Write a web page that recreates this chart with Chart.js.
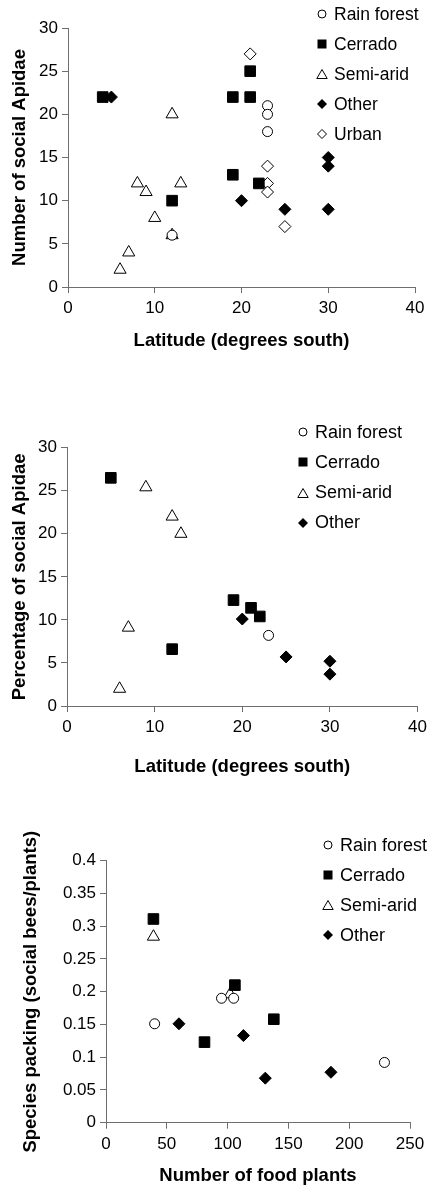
<!DOCTYPE html>
<html>
<head>
<meta charset="utf-8">
<script src="https://cdn.jsdelivr.net/npm/chart.js@4.4.1/dist/chart.umd.min.js"></script>
<style>
  html, body { margin:0; padding:0; background:#fff; }
  body { width:432px; height:1186px; position:relative; overflow:hidden; font-family: Arial, 'Liberation Sans', sans-serif; }
  .panel { position:absolute; left:0; width:432px; }
  .panel canvas { position:absolute; left:0; top:0; }
  .legend { position:absolute; left:0; top:0; }
  .legend__row { position:absolute; height:20px; display:flex; align-items:center; white-space:nowrap; color:#000; }
  .legend__row svg { margin-right:6px; flex:none; }
</style>
</head>
<body>
<div class="panel" id="panel-1"><canvas id="chart-1"></canvas></div>
<div class="panel" id="panel-2"><canvas id="chart-2"></canvas></div>
<div class="panel" id="panel-3"><canvas id="chart-3"></canvas></div>
<div class="legend" id="js-legend"></div>

<script>
  /* ━━━━  DATA  ━━━━ */
  // chart 1: latitude vs number of social Apidae
  const c1Rain    = [[12,6],[23,21],[23,20],[23,18]];
  const c1Cerrado = [[4,22],[12,10],[19,13],[19,22],[21,25],[21,22],[22,12]];
  const c1Semi    = [[6,2],[7,4],[8,12],[9,11],[10,8],[12,6],[12,20],[13,12]];
  const c1Other   = [[5,22],[20,10],[25,9],[30,9],[30,14],[30,15]];
  const c1Urban   = [[21,27],[23,14],[23,12],[23,11],[25,7]];

  // chart 2: latitude vs percentage of social Apidae
  const c2Rain    = [[23,8.2]];
  const c2Cerrado = [[5,26.5],[12,6.6],[19,12.3],[21,11.4],[22,10.4]];
  const c2Semi    = [[6,2],[7,9.1],[9,25.4],[12,22],[13,20]];
  const c2Other   = [[20,10.1],[25,5.7],[30,5.2],[30,3.7]];

  // chart 3: number of food plants vs species packing
  const c3Rain    = [[40,0.151],[95,0.19],[105,0.19],[229,0.092]];
  const c3Cerrado = [[39,0.311],[81,0.123],[106,0.21],[138,0.158]];
  const c3Semi    = [[39,0.284],[102,0.196]];
  const c3Other   = [[60,0.151],[113,0.133],[131,0.068],[185,0.077]];

  const SERIES_NAMES = ['Rain forest','Cerrado','Semi-arid','Other','Urban'];
  const LAT_TICKS    = [0,10,20,30,40];
  const PCT_TICKS    = [0,5,10,15,20,25,30];
  const FOOD_TICKS   = [0,50,100,150,200,250];
  const PACK_TICKS   = [0,0.05,0.1,0.15,0.2,0.25,0.3,0.35,0.4];

  /* ━━━━  STYLE  ━━━━ */
  const FONT = "Arial, 'Liberation Sans', sans-serif";
  const AXIS = '#6e6e6e';
  const MARK = {
    'Rain forest': { pointStyle:'circle',   radius:5,   fill:'#fff' },
    'Cerrado':     { pointStyle:'rect',     radius:7.5, fill:'#000' },
    'Semi-arid':   { pointStyle:'triangle', radius:7,   fill:'#fff' },
    'Other':       { pointStyle:'rectRot',  radius:6,   fill:'#000' },
    'Urban':       { pointStyle:'rectRot',  radius:6,   fill:'#fff' }
  };
  const LEGEND_SVG = {
    'Rain forest': '<circle cx="6" cy="6" r="4" fill="#fff" stroke="#000" stroke-width="1"/>',
    'Cerrado':     '<rect x="1.5" y="1.5" width="9" height="9" fill="#000"/>',
    'Semi-arid':   '<polygon points="6,1.5 11.2,10.5 0.8,10.5" fill="#fff" stroke="#000" stroke-width="1"/>',
    'Other':       '<polygon points="6,1 11,6 6,11 1,6" fill="#000"/>',
    'Urban':       '<polygon points="6,1.5 10.5,6 6,10.5 1.5,6" fill="#fff" stroke="#000" stroke-width="1"/>'
  };

  const toPts = arr => arr.map(([x, y]) => ({ x, y }));

  function dataset(name, pts) {
    const m = MARK[name];
    return {
      label: name,
      data: toPts(pts),
      pointStyle: m.pointStyle,
      pointRadius: m.radius,
      pointBackgroundColor: m.fill,
      pointBorderColor: '#000',
      pointBorderWidth: 1,
      showLine: false
    };
  }

  /* ━━━━  CHART  ━━━━ */
  function makeChart(id, cfg) {
    const W = 432;
    const panel = document.getElementById('panel-' + id);
    panel.style.top = cfg.top + 'px';
    panel.style.height = cfg.height + 'px';
    const canvas = document.getElementById('chart-' + id);
    canvas.width = W; canvas.height = cfg.height;
    canvas.style.width = W + 'px'; canvas.style.height = cfg.height + 'px';

    const p = cfg.plot;                 // plot area in page coords
    const padLeft = cfg.padLeft;
    const padBottom = cfg.padBottom;
    const plotTop = p.t - cfg.top;
    const plotBottom = p.b - cfg.top;

    const grid = { display:true, drawOnChartArea:false, drawTicks:true, tickLength:6, color:AXIS, lineWidth:1 };
    const tickFont = { family:FONT, size:17 };
    const titleFont = { family:FONT, size:18.5, weight:'bold' };

    return new Chart(canvas.getContext('2d'), {
      type: 'scatter',
      data: { datasets: cfg.datasets },
      options: {
        responsive: false,
        animation: false,
        devicePixelRatio: 1,
        layout: { padding: { left:padLeft, right:W - p.r, top:plotTop, bottom:padBottom } },
        plugins: { legend:{ display:false }, tooltip:{ enabled:false } },
        scales: {
          x: {
            type:'linear', min:cfg.xTicks[0], max:cfg.xTicks[cfg.xTicks.length - 1],
            afterBuildTicks: s => { s.ticks = cfg.xTicks.map(v => ({ value:v })); },
            afterFit: s => { s.height = cfg.height - padBottom - plotBottom; },
            grid, border:{ display:true, color:AXIS, width:1 },
            ticks:{ color:'#000', font:tickFont, padding:5, maxRotation:0, autoSkip:false },
            title:{ display:true, text:cfg.xTitle, color:'#000', font:{ ...titleFont, lineHeight:1 }, padding:{ top:0, bottom:0 } }
          },
          y: {
            type:'linear', min:cfg.yTicks[0], max:cfg.yTicks[cfg.yTicks.length - 1],
            afterBuildTicks: s => { s.ticks = cfg.yTicks.map(v => ({ value:v })); },
            afterFit: s => { s.width = p.l - padLeft; },
            grid, border:{ display:true, color:AXIS, width:1 },
            ticks:{ color:'#000', font:tickFont, padding:4, callback: v => String(+v.toFixed(2)) },
            title:{ display:true, text:cfg.yTitle, color:'#000', font:titleFont, padding:{ top:4, bottom:4 } }
          }
        }
      }
    });
  }

  /* ━━━━  LEGEND  ━━━━ */
  function addLegend(names, x, y0, pitch, size) {
    const box = document.getElementById('js-legend');
    names.forEach((name, i) => {
      const row = document.createElement('div');
      row.className = 'legend__row';
      row.style.left = (x - 6) + 'px';
      row.style.top = (y0 + i * pitch - 10) + 'px';
      row.style.fontSize = size + 'px';
      row.innerHTML = `<svg width="12" height="12" viewBox="0 0 12 12">${LEGEND_SVG[name]}</svg><span>${name}</span>`;
      box.appendChild(row);
    });
  }

  /* ━━━━  INIT  ━━━━ */
  makeChart(1, {
    top:0, height:370, padLeft:5, padBottom:20,
    plot:{ l:68, r:415, t:28, b:287 },
    xTicks:LAT_TICKS, yTicks:PCT_TICKS,
    xTitle:'Latitude (degrees south)', yTitle:'Number of social Apidae',
    datasets:[
      dataset('Rain forest', c1Rain), dataset('Cerrado', c1Cerrado), dataset('Semi-arid', c1Semi),
      dataset('Other', c1Other), dataset('Urban', c1Urban)
    ]
  });

  makeChart(2, {
    top:400, height:385, padLeft:5, padBottom:9,
    plot:{ l:67, r:420.7, t:447.7, b:706 },
    xTicks:LAT_TICKS, yTicks:PCT_TICKS,
    xTitle:'Latitude (degrees south)', yTitle:'Percentage of social Apidae',
    datasets:[
      dataset('Rain forest', c2Rain), dataset('Cerrado', c2Cerrado),
      dataset('Semi-arid', c2Semi), dataset('Other', c2Other)
    ]
  });

  makeChart(3, {
    top:800, height:386, padLeft:16, padBottom:1,
    plot:{ l:106, r:410, t:860.7, b:1122.7 },
    xTicks:FOOD_TICKS, yTicks:PACK_TICKS,
    xTitle:'Number of food plants', yTitle:'Species packing (social bees/plants)',
    datasets:[
      dataset('Rain forest', c3Rain), dataset('Cerrado', c3Cerrado),
      dataset('Semi-arid', c3Semi), dataset('Other', c3Other)
    ]
  });

  addLegend(SERIES_NAMES, 322, 14, 30, 17.5);
  addLegend(SERIES_NAMES.slice(0, 4), 303, 432, 30.3, 18);
  addLegend(SERIES_NAMES.slice(0, 4), 328, 845, 30, 18);
</script>
</body>
</html>
